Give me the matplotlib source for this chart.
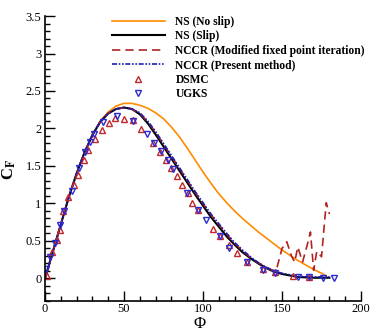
import numpy as np
import matplotlib
matplotlib.use('Agg')
import matplotlib.pyplot as plt
from matplotlib.ticker import MultipleLocator

plt.rcParams['font.family'] = ['Liberation Serif', 'DejaVu Serif']
plt.rcParams['mathtext.fontset'] = 'stix'

# NS (No slip)
phi_noslip = [0, 5, 10, 15, 20, 25, 30, 35, 40, 45, 50, 55, 60, 65, 70, 75, 80, 85, 90, 95,
              100, 105, 110, 115, 120, 125, 130, 135, 140, 145, 150, 155, 160, 165, 170, 175, 178]
cf_noslip = [0, 0.36, 0.72, 1.08, 1.40, 1.68, 1.92, 2.10, 2.22, 2.30, 2.335, 2.335, 2.31,
             2.27, 2.21, 2.13, 2.02, 1.89, 1.74, 1.58, 1.42, 1.27, 1.13, 1.01, 0.90, 0.80,
             0.71, 0.62, 0.54, 0.46, 0.38, 0.31, 0.24, 0.18, 0.12, 0.07, 0.035]

# NS (Slip)
phi_slip = [0, 5, 10, 15, 20, 25, 30, 35, 40, 45, 50, 55, 60, 65, 70, 75, 80, 85, 90, 95,
            100, 105, 110, 115, 120, 125, 130, 135, 140, 145, 150, 155, 160, 170, 180]
cf_slip = [0, 0.36, 0.72, 1.08, 1.40, 1.68, 1.91, 2.09, 2.20, 2.26, 2.28, 2.26, 2.19, 2.07,
           1.92, 1.76, 1.60, 1.44, 1.28, 1.12, 0.97, 0.82, 0.69, 0.56, 0.45, 0.35, 0.27,
           0.20, 0.14, 0.09, 0.06, 0.04, 0.02, 0.01, 0.01]

# NCCR (Modified fixed point iteration)
phi_mfpi = [0, 5, 10, 15, 20, 25, 30, 35, 40, 45, 50, 55, 60, 65, 70, 75, 80, 85, 90, 95,
            100, 105, 110, 115, 120, 125, 130, 135, 140, 145, 147, 150, 153, 156, 158, 160,
            163, 166, 168, 170, 172, 175, 178, 180]
cf_mfpi = [0, 0.36, 0.72, 1.08, 1.40, 1.68, 1.91, 2.09, 2.20, 2.26, 2.28, 2.26, 2.20, 2.09,
           1.95, 1.79, 1.63, 1.47, 1.31, 1.15, 1.00, 0.85, 0.72, 0.59, 0.47, 0.37, 0.28,
           0.21, 0.15, 0.10, 0.16, 0.40, 0.49, 0.30, 0.22, 0.42, 0.22, 0.45, 0.62, 0.11,
           0.36, 0.29, 1.01, 0.86]

# NCCR (Present method)
phi_pm = [0, 5, 10, 15, 20, 25, 30, 35, 40, 45, 50, 55, 60, 65, 70, 75, 80, 85, 90, 95,
          100, 105, 110, 115, 120, 125, 130, 135, 140, 145, 150, 155, 160, 170, 180]
cf_pm = [0, 0.36, 0.72, 1.08, 1.40, 1.68, 1.91, 2.09, 2.20, 2.26, 2.28, 2.26, 2.21, 2.10,
         1.96, 1.80, 1.64, 1.48, 1.32, 1.16, 1.01, 0.86, 0.73, 0.60, 0.48, 0.38, 0.29,
         0.21, 0.15, 0.10, 0.07, 0.05, 0.03, 0.02, 0.02]

# DSMC
phi_dsmc = [1, 4.2, 7.8, 9.5, 11.6, 14.8, 18.6, 21, 24.9, 27.4, 31.6, 35.9, 40.5, 44, 50,
            55.5, 60.5, 68.5, 73, 76.6, 80, 83.3, 87, 90.7, 92.8, 97, 106.5, 110.8, 116.7,
            121.7, 127.6, 138, 145.6, 157, 167]
cf_dsmc = [0.03, 0.35, 0.51, 0.65, 0.90, 1.08, 1.25, 1.38, 1.58, 1.71, 1.86, 1.98, 2.07,
           2.14, 2.12, 2.11, 1.99, 1.80, 1.69, 1.58, 1.47, 1.37, 1.24, 1.14, 1.00, 0.91,
           0.66, 0.56, 0.44, 0.34, 0.22, 0.12, 0.08, 0.035, 0.02]

# UGKS
phi_ugks = [0.8, 3.3, 6.3, 9.5, 12, 16.9, 21.7, 25.3, 28.5, 31.2, 37, 45.4, 56, 64.3, 69.2,
            73.4, 77.6, 81.2, 90, 97, 101.9, 110.8, 116.7, 127.6, 138, 145.6, 160, 167,
            175.7, 183]
cf_ugks = [0.13, 0.28, 0.47, 0.71, 0.90, 1.17, 1.47, 1.69, 1.82, 1.92, 2.08, 2.17, 2.10,
           1.92, 1.81, 1.70, 1.58, 1.46, 1.14, 0.91, 0.78, 0.56, 0.41, 0.22, 0.11, 0.07,
           0.02, 0.02, 0.01, 0.01]

fig = plt.figure(figsize=(3.74, 3.32), dpi=100)
ax = fig.add_axes([0.1203, 0.0934, 0.845, 0.8584])

ax.plot(phi_noslip, cf_noslip, '-', color='#ff8c00', lw=1.2, label='NS (No slip)')
ax.plot(phi_slip, cf_slip, '-', color='black', lw=1.5, label='NS (Slip)')
ax.plot(phi_mfpi, cf_mfpi, '--', color='#b22222', lw=1.2, dashes=(5, 3),
        label='NCCR (Modified fixed point iteration)')
ax.plot(phi_pm, cf_pm, '-', color='#1c1cb0', lw=1.2, dashes=(3, 1, 1, 1, 1, 1),
        label='NCCR (Present method)')
ax.plot(phi_dsmc, cf_dsmc, '^', ms=5, mfc='none', mec='#c0282d', mew=1.0,
        linestyle='none', label='DSMC')
ax.plot(phi_ugks, cf_ugks, 'v', ms=5, mfc='none', mec='#2a2ad0', mew=1.0,
        linestyle='none', label='UGKS')

ax.set_xlim(0, 200)
ax.set_ylim(-0.3, 3.5)
ax.xaxis.set_major_locator(MultipleLocator(50))
ax.xaxis.set_minor_locator(MultipleLocator(10))
ax.yaxis.set_minor_locator(MultipleLocator(0.1))
ax.set_yticks([0, 0.5, 1, 1.5, 2, 2.5, 3, 3.5])
ax.set_yticklabels(['0', '0.5', '1', '1.5', '2', '2.5', '3', '3.5'])
ax.tick_params(which='both', direction='in', labelsize=9, width=1.0)
ax.tick_params(which='major', length=7, pad=2.5)
ax.tick_params(axis='x', which='major', pad=1.5)
ax.tick_params(which='minor', length=3.5)
for s in ['top', 'right']:
    ax.spines[s].set_visible(False)
for s in ['left', 'bottom']:
    ax.spines[s].set_linewidth(1.2)

ax.set_xlabel('Φ', fontsize=12)
ax.set_ylabel(r'C$_\mathbf{F}$', fontsize=12, fontweight='bold')
ax.xaxis.set_label_coords(0.49, -0.052)
ax.yaxis.set_label_coords(-0.085, 0.46)

ax.legend(loc='upper left', bbox_to_anchor=(0.19, 1.025), frameon=False,
          prop={'family': 'Liberation Serif', 'weight': 'bold', 'size': 8.3},
          handlelength=4.6, handletextpad=0.9, labelspacing=0.22, borderpad=0.1)

fig.savefig('out.png', dpi=100)
